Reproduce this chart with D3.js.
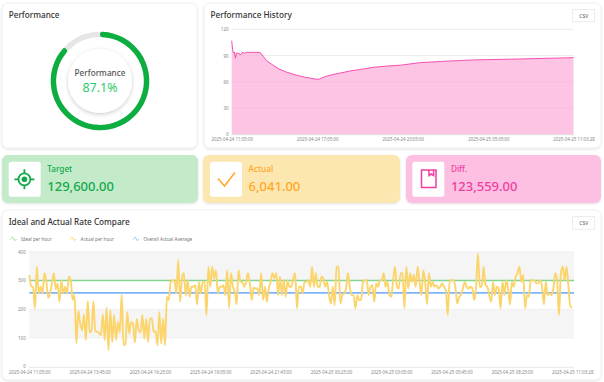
<!DOCTYPE html>
<html>
<head>
<meta charset="utf-8">
<script src="https://d3js.org/d3.v7.min.js"></script>
<style>
  html, body { margin: 0; padding: 0; background: #fff; }
  svg { display: block; font-family: "Noto Sans", sans-serif; }
</style>
</head>
<body>
<svg width="604" height="382"></svg>
<script>
var performanceValue = 87.1;

var historyHours = [0, .07, .14, .19, .26, .33, .42, .54, .61, .75, .89, 1.05, 1.52, 1.99, 2.22, 2.46, 2.81, 3.28, 3.75, 4.57, 5.27, 5.97, 6.16, 6.56, 7.03, 7.61, 8.31, 9.25, 9.95, 10.89, 11.83, 13.23, 14.87, 16.98, 20.02, 23.97];
var historyValues = [107, 96, 93, 94, 87, 93, 92.6, 92, 90.7, 93.7, 92.6, 93.7, 93.7, 93.7, 88.8, 84, 80, 75, 71.6, 67.4, 64.8, 62.9, 63.2, 66, 68, 70, 72.4, 74.7, 76.6, 78, 79, 81.9, 83.4, 85, 86, 87.6];
var historyTicks = [0, 6, 12, 18, 23.97];
var historyLabels = ["2025-04-24 11:05:00", "2025-04-24 17:05:00", "2025-04-24 23:05:00", "2025-04-25 05:05:00", "2025-04-25 11:03:28"];
var historyYTicks = [0, 30, 60, 90, 120];

var kpiNames = ["Target", "Actual", "Diff."];
var kpiValues = ["129,600.00", "6,041.00", "123,559.00"];

var actualPerHour = [
  319, 280, 276, 203, 348, 255, 278, 255, 325, 300, 240, 255, 290, 325, 270, 290, 226, 300, 255, 278,
  255, 313, 300, 232, 250, 81, 194, 150, 127, 182, 93, 228, 119, 125, 228, 124, 122, 118, 110, 182,
  93, 205, 58, 197, 85, 180, 93, 156, 119, 251, 75, 81, 191, 116, 156, 150, 84, 166, 127, 119,
  180, 98, 166, 87, 168, 168, 122, 124, 75, 191, 81, 168, 75, 243, 232, 295, 301, 301, 255, 371,
  226, 307, 325, 247, 301, 243, 278, 278, 284, 217, 295, 255, 295, 295, 180, 348, 278, 348, 307, 336,
  255, 278, 278, 284, 249, 336, 205, 325, 278, 261, 217, 336, 295, 295, 278, 295, 325, 290, 232, 275,
  272, 272, 249, 325, 232, 278, 226, 272, 295, 325, 307, 325, 249, 313, 249, 301, 243, 301, 278, 278,
  307, 325, 203, 278, 278, 255, 295, 295, 300, 278, 348, 278, 325, 278, 278, 313, 307, 278, 295, 249,
  220, 278, 214, 348, 348, 220, 249, 255, 272, 325, 278, 249, 249, 203, 249, 232, 232, 295, 301, 301,
  249, 278, 284, 226, 290, 278, 301, 301, 325, 278, 295, 249, 243, 301, 348, 278, 272, 325, 325, 203,
  348, 272, 325, 295, 319, 278, 348, 295, 249, 336, 295, 217, 325, 278, 295, 278, 284, 272, 278, 290,
  278, 265, 180, 301, 301, 301, 278, 220, 243, 249, 272, 295, 278, 272, 278, 272, 232, 278, 394, 278,
  278, 348, 284, 278, 249, 226, 295, 249, 278, 272, 203, 295, 249, 301, 272, 217, 295, 278, 313, 325,
  348, 295, 320, 203, 249, 243, 301, 301, 301, 290, 290, 301, 278, 217, 295, 249, 255, 249, 272, 325,
  300, 180, 325, 348, 301, 348, 280, 208, 208
];
var idealPerHour = [300, 300];
var overallAverage = [257, 257];
var rateTickIndex = [0, 32, 64, 96, 128, 160, 192, 224, 256, 288];
var rateLabels = ["2025-04-24 11:05:00", "2025-04-24 13:45:00", "2025-04-24 16:25:00", "2025-04-24 19:05:00", "2025-04-24 21:45:00", "2025-04-25 00:25:00", "2025-04-25 03:05:00", "2025-04-25 05:45:00", "2025-04-25 08:25:00", "2025-04-25 11:03:28"];
var rateYTicks = [0, 100, 200, 300, 400];
var rateBands = [[100, 200], [300, 400]];
var legendNames = ["Ideal per hour", "Actual per hour", "Overall Actual Average"];

var svg = d3.select("svg");

var defs = svg.append("defs");
var shadow = defs.append("filter").attr("id", "soft").attr("x", "-10%").attr("y", "-10%").attr("width", "120%").attr("height", "120%");
shadow.append("feDropShadow").attr("dx", 0).attr("dy", 1).attr("stdDeviation", 1.2).attr("flood-color", "#000").attr("flood-opacity", 0.12);
var discShadow = defs.append("filter").attr("id", "disc").attr("x", "-30%").attr("y", "-30%").attr("width", "160%").attr("height", "160%");
discShadow.append("feDropShadow").attr("dx", 0).attr("dy", 1.5).attr("stdDeviation", 2).attr("flood-color", "#000").attr("flood-opacity", 0.2);

function card(x, y, w, h, fill) {
  svg.append("rect")
    .attr("x", x).attr("y", y).attr("width", w).attr("height", h)
    .attr("rx", 6)
    .attr("fill", fill || "#fff")
    .attr("stroke", fill ? "none" : "#ececec")
    .attr("stroke-width", 0.8)
    .attr("filter", "url(#soft)");
}

function title(x, y, text) {
  svg.append("text")
    .attr("x", x).attr("y", y)
    .attr("dy", "0.35em")
    .attr("font-size", 8.2)
    .attr("font-weight", 500)
    .attr("fill", "#333")
    .text(text);
}

function csvButton(x, y) {
  svg.append("rect")
    .attr("x", x).attr("y", y).attr("width", 22).attr("height", 12.5)
    .attr("fill", "#fff").attr("stroke", "#e4e4e4").attr("stroke-width", 0.7);
  svg.append("text")
    .attr("x", x + 11).attr("y", y + 6.5)
    .attr("dy", "0.35em")
    .attr("text-anchor", "middle")
    .attr("font-size", 5)
    .attr("fill", "#555")
    .text("CSV");
}

function styleAxis(g, size) {
  g.selectAll("text").attr("font-size", size).attr("fill", "#888").attr("font-family", "'Noto Sans', sans-serif");
  g.selectAll("line").attr("stroke", "#ddd").attr("stroke-width", 0.7);
  g.select(".domain").attr("stroke", "#ddd").attr("stroke-width", 0.7);
}

/* cards */
card(2, 3, 195, 145);
card(204, 3, 397, 145);
card(2, 155, 196, 48, "#c3ebc9");
card(203, 155, 197, 48, "#fde7b0");
card(406, 155, 195, 48, "#fdc0e2");
card(2, 210, 599, 170);

/* gauge */
title(8.7, 15.3, "Performance");

var gauge = svg.append("g").attr("transform", "translate(100,81)");
gauge.append("circle").attr("r", 46.6).attr("fill", "none").attr("stroke", "#e6e6e6").attr("stroke-width", 5.4);
gauge.append("path")
  .attr("d", d3.arc()
    .innerRadius(43.9).outerRadius(49.3)
    .cornerRadius(2.7)
    .startAngle(0)
    .endAngle(2 * Math.PI * performanceValue / 100)())
  .attr("fill", "#0cae40");
gauge.append("circle").attr("r", 32).attr("fill", "#fff").attr("filter", "url(#disc)");
gauge.append("text")
  .attr("y", -8).attr("dy", "0.35em")
  .attr("text-anchor", "middle")
  .attr("font-size", 8.2)
  .attr("font-weight", 500)
  .attr("fill", "#555")
  .text("Performance");
gauge.append("text")
  .attr("y", 6.5).attr("dy", "0.35em")
  .attr("text-anchor", "middle")
  .attr("font-size", 12.5)
  .attr("fill", "#2ecb6a")
  .text(performanceValue + "%");

/* performance history */
title(210.5, 15.3, "Performance History");
csvButton(572.7, 9.3);

var hx = d3.scaleLinear().domain([0, 23.97]).range([231.7, 573.5]);
var hy = d3.scaleLinear().domain([0, 120]).range([134.3, 29.3]);

var hGrid = svg.append("g");
hGrid.selectAll("line")
  .data(historyYTicks)
  .enter().append("line")
  .attr("x1", hx(0)).attr("x2", hx(23.97))
  .attr("y1", function(d) { return hy(d); })
  .attr("y2", function(d) { return hy(d); })
  .attr("stroke", "#e4e4e4").attr("stroke-width", 0.7);

var historyPoints = historyHours.map(function(h, i) { return [h, historyValues[i]]; });

svg.append("path")
  .datum(historyPoints)
  .attr("fill", "#fb9fd4")
  .attr("fill-opacity", 0.62)
  .attr("d", d3.area()
    .x(function(d) { return hx(d[0]); })
    .y0(hy(0))
    .y1(function(d) { return hy(d[1]); }));

svg.append("path")
  .datum(historyPoints)
  .attr("fill", "none")
  .attr("stroke", "#f53fa8")
  .attr("stroke-width", 0.9)
  .attr("d", d3.line()
    .x(function(d) { return hx(d[0]); })
    .y(function(d) { return hy(d[1]); }));

svg.append("g")
  .attr("transform", "translate(0," + hy(0) + ")")
  .call(d3.axisBottom(hx).tickValues(historyTicks).tickSize(0).tickPadding(3.6)
    .tickFormat(function(d, i) { return historyLabels[i]; }))
  .call(styleAxis, 4.4);

svg.append("g")
  .attr("transform", "translate(" + hx(0) + ",0)")
  .call(d3.axisLeft(hy).tickValues(historyYTicks).tickSize(0).tickPadding(3))
  .call(styleAxis, 4.6)
  .select(".domain").attr("stroke", "none");

/* kpi boxes */
var kpiX = [8.7, 210, 412.3];
var kpiColors = ["#12a84a", "#ffa726", "#ee3fa0"];

kpiNames.forEach(function(name, i) {
  var g = svg.append("g").attr("transform", "translate(" + kpiX[i] + ",161.7)");
  g.append("rect").attr("width", 32).attr("height", 35).attr("rx", 2.5).attr("fill", "#fff");
  g.append("text")
    .attr("x", 38.6).attr("y", 7.3).attr("dy", "0.35em")
    .attr("font-size", 8.2).attr("font-weight", 500)
    .attr("fill", kpiColors[i])
    .text(name);
  g.append("text")
    .attr("x", 38.6).attr("y", 24.6).attr("dy", "0.35em")
    .attr("font-size", 13).attr("font-weight", 500)
    .attr("fill", kpiColors[i])
    .text(kpiValues[i]);
});

// target icon
var target = svg.append("g").attr("transform", "translate(24.4,179.3)")
  .attr("fill", "none").attr("stroke", kpiColors[0]).attr("stroke-width", 1.8);
target.append("circle").attr("r", 6);
target.append("circle").attr("r", 2.8).attr("fill", kpiColors[0]).attr("stroke", "none");
target.append("path").attr("d", "M0,-10V-6M0,6V10M-10,0H-6M6,0H10");

// check icon
svg.append("path")
  .attr("d", "M218,178.5L224.5,186L235,172.5")
  .attr("fill", "none").attr("stroke", kpiColors[1]).attr("stroke-width", 1.5);

// book icon
svg.append("path")
  .attr("d", "M421.5,170H436V187.5H421.5ZM429,170V175.5L431.3,174L433.6,175.5V170")
  .attr("fill", "none").attr("stroke", kpiColors[2]).attr("stroke-width", 1.5);

/* rate compare */
title(8.7, 222, "Ideal and Actual Rate Compare");
csvButton(572.7, 216.7);

var legendX = [10.5, 70, 133];
var legendColors = ["#8fdc9a", "#ffd262", "#8dbcf5"];

legendNames.forEach(function(name, i) {
  var g = svg.append("g").attr("transform", "translate(" + legendX[i] + ",239)");
  g.append("path")
    .attr("d", "M0,0.5C1.5,-2.5 2.5,-2.5 3.2,0C4,2 5,2 6,0")
    .attr("fill", "none").attr("stroke", legendColors[i]).attr("stroke-width", 0.9);
  g.append("text")
    .attr("x", 10.5).attr("dy", "0.35em")
    .attr("font-size", 4.6).attr("fill", "#777")
    .text(name);
});

var rx = d3.scaleLinear().domain([0, 288]).range([29.3, 572.2]);
var ry = d3.scaleLinear().domain([0, 400]).range([366.8, 251.7]);
var rateRight = 574;

svg.append("g").selectAll("rect")
  .data(rateBands)
  .enter().append("rect")
  .attr("x", rx(0)).attr("width", rateRight - rx(0))
  .attr("y", function(d) { return ry(d[1]); })
  .attr("height", function(d) { return ry(d[0]) - ry(d[1]); })
  .attr("fill", "#f5f5f5");

svg.append("g").selectAll("line")
  .data(rateYTicks.slice(1))
  .enter().append("line")
  .attr("x1", rx(0)).attr("x2", rateRight)
  .attr("y1", function(d) { return ry(d); })
  .attr("y2", function(d) { return ry(d); })
  .attr("stroke", "#ddd").attr("stroke-width", 0.6).attr("stroke-dasharray", "1,1");

svg.append("g")
  .attr("transform", "translate(0," + ry(0) + ")")
  .call(d3.axisBottom(rx).tickValues(rateTickIndex).tickSize(1.5).tickPadding(2.4)
    .tickFormat(function(d, i) { return rateLabels[i]; }))
  .call(styleAxis, 4.4);

var rateYAxis = svg.append("g")
  .attr("transform", "translate(" + rx(0) + ",0)")
  .call(d3.axisLeft(ry).tickValues(rateYTicks).tickSize(0).tickPadding(3.5))
  .call(styleAxis, 4.6);
rateYAxis.select(".domain").attr("stroke", "none");
// keep the 0 label clear of the first date label
rateYAxis.selectAll("text").filter(function(d) { return d === 0; }).attr("y", -1);

var flatLine = d3.line()
  .x(function(d, i) { return i === 0 ? rx(0) : rateRight; })
  .y(function(d) { return ry(d); });

svg.append("path").datum(idealPerHour)
  .attr("d", flatLine)
  .attr("fill", "none").attr("stroke", "#82d68f").attr("stroke-width", 1.6);

svg.append("path").datum(overallAverage)
  .attr("d", flatLine)
  .attr("fill", "none").attr("stroke", "#7db5f6").attr("stroke-width", 1.6);

svg.append("path").datum(actualPerHour)
  .attr("fill", "none")
  .attr("stroke", "#fbd46c")
  .attr("stroke-width", 1.9)
  .attr("stroke-linejoin", "round")
  .attr("d", d3.line()
    .curve(d3.curveMonotoneX)
    .x(function(d, i) { return rx(i); })
    .y(function(d) { return ry(d); }));
</script>
</body>
</html>
